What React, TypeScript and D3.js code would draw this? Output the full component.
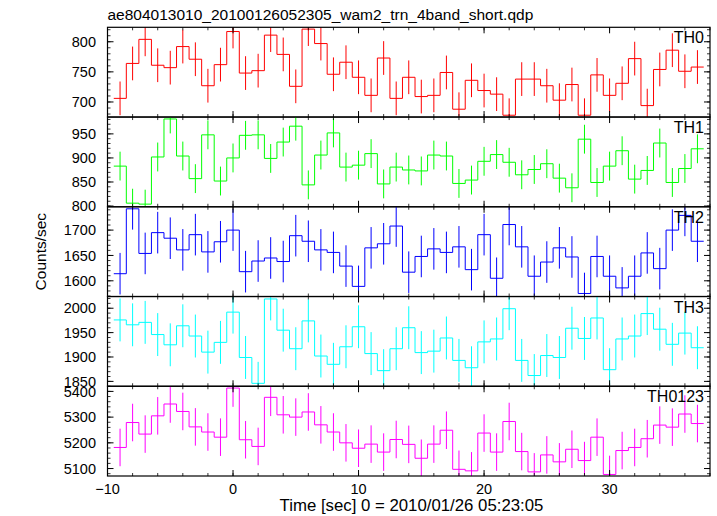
import React from "react";
import * as d3 from "d3";

const TITLE = "ae804013010_20100126052305_wam2_trn_4band_short.qdp";
const XLABEL = "Time [sec] 0 = 2010/01/26 05:23:05";
const YLABEL = "Counts/sec";

const times = [-9, -8, -7, -6, -5, -4, -3, -2, -1, 0, 1, 2, 3, 4, 5, 6, 7, 8, 9, 10, 11, 12, 13, 14, 15, 16, 17, 18, 19, 20, 21, 22, 23, 24, 25, 26, 27, 28, 29, 30, 31, 32, 33, 34, 35, 36, 37];

const th0 = [706, 764, 804, 761, 757, 792, 771, 727, 762, 817, 748, 752, 811, 779, 726, 821, 797, 746, 766, 741, 711, 773, 706, 741, 709, 711, 749, 688, 736, 719, 713, 678, 738, 738, 727, 703, 729, 678, 745, 711, 731, 772, 694, 754, 786, 751, 758];
const th1 = [883, 806, 804, 902, 981, 904, 857, 948, 852, 900, 947, 948, 899, 933, 966, 844, 906, 952, 881, 885, 909, 846, 881, 875, 873, 906, 904, 847, 854, 893, 907, 891, 865, 876, 888, 858, 838, 939, 849, 883, 915, 856, 874, 931, 849, 878, 919];
const th2 = [1614, 1742, 1654, 1695, 1684, 1661, 1691, 1657, 1677, 1700, 1618, 1639, 1645, 1638, 1689, 1678, 1661, 1656, 1629, 1589, 1665, 1673, 1708, 1617, 1648, 1663, 1656, 1667, 1622, 1691, 1605, 1711, 1667, 1609, 1637, 1665, 1647, 1575, 1648, 1609, 1586, 1609, 1655, 1624, 1700, 1729, 1678];
const th3 = [1976, 1966, 1971, 1946, 1925, 1964, 1943, 1910, 1930, 1992, 1899, 1846, 2019, 1955, 1917, 1974, 1902, 1885, 1921, 1962, 1907, 1872, 1917, 1960, 1909, 1912, 1939, 1893, 1878, 1931, 1937, 1999, 1893, 1862, 1903, 1899, 1959, 1938, 1980, 1874, 1937, 1943, 1989, 1957, 1926, 1949, 1919];
const th0123 = [5182, 5279, 5234, 5305, 5351, 5322, 5262, 5242, 5222, 5413, 5212, 5186, 5377, 5309, 5300, 5320, 5270, 5242, 5200, 5179, 5195, 5164, 5213, 5194, 5140, 5195, 5249, 5097, 5091, 5238, 5164, 5283, 5166, 5087, 5153, 5126, 5175, 5131, 5222, 5077, 5170, 5182, 5216, 5269, 5261, 5312, 5275];

const panelNames = ["TH0", "TH1", "TH2", "TH3", "TH0123"];
const panelValues = [th0, th1, th2, th3, th0123];
const panelErrors = [28, 30, 41, 44, 73];
const panelColors = ["#ff0000", "#00ff00", "#0000ff", "#00ffff", "#ff00ff"];
const panelDomains: [number, number][] = [[675, 824], [798.5, 985], [1569, 1746], [1840, 2024], [5071, 5420]];
const panelMajorTicks = [[700, 750, 800], [800, 850, 900, 950], [1600, 1650, 1700], [1850, 1900, 1950, 2000], [5100, 5200, 5300, 5400]];
const panelMinorStep = [10, 10, 10, 10, 20];

const xDomain: [number, number] = [-10, 38];
const xMajorTicks = [-10, 0, 10, 20, 30];
const xMinorStep = 2;

const W = 717, H = 516;
const L = 107.5, R = 710, T = 27.3, B = 476;
const PH = (B - T) / 5;
const FONT = "'Liberation Sans', Arial, Helvetica, sans-serif";

export default function App() {
  const x = d3.scaleLinear().domain(xDomain).range([L, R]);
  const xMinor = d3.range(xDomain[0], xDomain[1] + 0.001, xMinorStep);

  return (
    <svg width={W} height={H} style={{ position: "absolute", left: 0, top: 0, background: "#fff" }} fontFamily={FONT}>
      <defs>
        {panelNames.map((n, p) => (
          <clipPath id={`clip${p}`} key={n}>
            <rect x={L} y={T + p * PH} width={R - L} height={PH} />
          </clipPath>
        ))}
      </defs>
      <rect x={0} y={0} width={W} height={H} fill="#fff" />
      <text x={L} y={20} fontSize={15.5} fill="#000">{TITLE}</text>
      {panelNames.map((name, p) => {
        const top = T + p * PH;
        const bot = top + PH;
        const y = d3.scaleLinear().domain(panelDomains[p]).range([bot, top]);
        const vals = panelValues[p];
        const err = panelErrors[p];
        const col = panelColors[p];
        const pts: [number, number][] = times.map((t, i) => [t - 0.5, vals[i]]);
        pts.push([times[times.length - 1] + 0.5, vals[vals.length - 1]]);
        const line = d3.line<[number, number]>().x(d => x(d[0])).y(d => y(d[1])).curve(d3.curveStepAfter);
        const [d0, d1] = panelDomains[p];
        const minor = d3.range(Math.ceil(d0 / panelMinorStep[p]) * panelMinorStep[p], d1, panelMinorStep[p]);
        return (
          <g key={name}>
            <g clipPath={`url(#clip${p})`}>
              {times.map((t, i) => (
                <line key={t} x1={x(t)} x2={x(t)} y1={y(vals[i] - err)} y2={y(vals[i] + err)} stroke={col} strokeWidth={1} />
              ))}
              <path d={line(pts) || ""} fill="none" stroke={col} strokeWidth={1} />
            </g>
            {minor.map(v => (
              <g key={"m" + v}>
                <line x1={L} x2={L + 3} y1={y(v)} y2={y(v)} stroke="#000" strokeWidth={0.8} />
                <line x1={R} x2={R - 3} y1={y(v)} y2={y(v)} stroke="#000" strokeWidth={0.8} />
              </g>
            ))}
            {panelMajorTicks[p].map(v => (
              <g key={"M" + v}>
                <line x1={L} x2={L + 6} y1={y(v)} y2={y(v)} stroke="#000" strokeWidth={1} />
                <line x1={R} x2={R - 6} y1={y(v)} y2={y(v)} stroke="#000" strokeWidth={1} />
                <text x={96} y={y(v)} dy="0.36em" textAnchor="end" fontSize={14.5} fill="#000">{v}</text>
              </g>
            ))}
            {xMinor.map(v => (
              <g key={"xm" + v}>
                <line x1={x(v)} x2={x(v)} y1={bot} y2={bot - 3} stroke="#000" strokeWidth={0.8} />
                <line x1={x(v)} x2={x(v)} y1={top} y2={top + 3} stroke="#000" strokeWidth={0.8} />
              </g>
            ))}
            {xMajorTicks.map(v => (
              <g key={"xM" + v}>
                <line x1={x(v)} x2={x(v)} y1={bot} y2={bot - 6} stroke="#000" strokeWidth={1} />
                <line x1={x(v)} x2={x(v)} y1={top} y2={top + 6} stroke="#000" strokeWidth={1} />
              </g>
            ))}
            <rect x={L} y={top} width={R - L} height={PH} fill="none" stroke="#000" strokeWidth={1.2} />
            <text x={704} y={top + 16} textAnchor="end" fontSize={16} fill="#000">{name}</text>
          </g>
        );
      })}
      {xMajorTicks.map(v => (
        <text key={"xl" + v} x={x(v)} y={493.5} textAnchor="middle" fontSize={14.5} fill="#000">{v < 0 ? "\u2212" + Math.abs(v) : v}</text>
      ))}
      <text x={411.5} y={511} textAnchor="middle" fontSize={16.8} fill="#000">{XLABEL}</text>
      <text transform={`translate(46,${(T + B) / 2}) rotate(-90)`} textAnchor="middle" fontSize={15.5} fill="#000">{YLABEL}</text>
    </svg>
  );
}
